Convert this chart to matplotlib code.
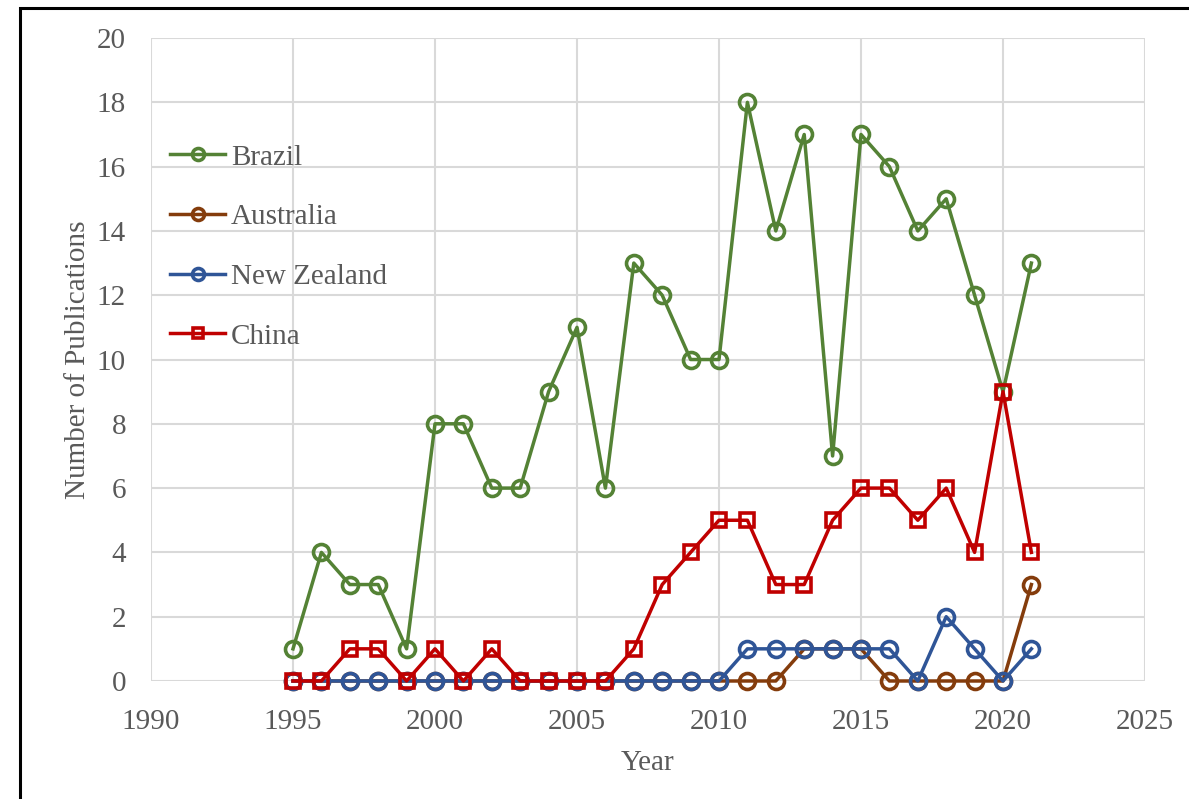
import matplotlib.pyplot as plt
from matplotlib.patches import Rectangle

years = list(range(1995, 2022))
brazil = [1, 4, 3, 3, 1, 8, 8, 6, 6, 9, 11, 6, 13, 12, 10, 10, 18, 14, 17, 7, 17, 16, 14, 15, 12, 9, 13]
australia = [0, 0, 0, 0, 0, 0, 0, 0, 0, 0, 0, 0, 0, 0, 0, 0, 0, 0, 1, 1, 1, 0, 0, 0, 0, 0, 3]
new_zealand = [0, 0, 0, 0, 0, 0, 0, 0, 0, 0, 0, 0, 0, 0, 0, 0, 1, 1, 1, 1, 1, 1, 0, 2, 1, 0, 1]
china = [0, 0, 1, 1, 0, 1, 0, 1, 0, 0, 0, 0, 1, 3, 4, 5, 5, 3, 3, 5, 6, 6, 5, 6, 4, 9, 4]

plt.rcParams['font.family'] = ['Liberation Serif', 'DejaVu Serif']

fig = plt.figure(figsize=(11.89, 7.99), dpi=100)
ax = fig.add_axes([0.127, 0.1477, 0.836, 0.8047])

style = dict(lw=2.5, marker='o', ms=11.5, mew=2.6, mfc='none', clip_on=False)
ax.plot(years, brazil, color='#548235', label='Brazil', **style)
ax.plot(years, australia, color='#843C0C', label='Australia', **style)
ax.plot(years, new_zealand, color='#2F5597', label='New Zealand', **style)
sq = dict(style)
sq['marker'] = 's'
sq['ms'] = 10.5
ax.plot(years, china, color='#C00000', label='China', **sq)

ax.set_xlim(1990, 2025)
ax.set_ylim(0, 20)
ax.set_xticks(range(1990, 2026, 5))
ax.set_yticks(range(0, 21, 2))
ax.grid(True, color='#d9d9d9', lw=1.5)
ax.set_axisbelow(True)
for s in ax.spines.values():
    s.set_visible(False)
ax.tick_params(length=0, labelsize=21, labelcolor='#595959')
ax.tick_params(axis='x', pad=20)
ax.tick_params(axis='y', pad=18)
ax.set_xlabel('Year', fontsize=21, color='#595959', labelpad=11)
ax.set_ylabel('Number of Publications', fontsize=21, color='#595959', labelpad=4)

leg = ax.legend(loc='upper left', bbox_to_anchor=(0.019, 0.835), frameon=False,
                fontsize=21, labelcolor='#595959', handlelength=1.9,
                handletextpad=0.2, labelspacing=1.14, borderaxespad=0,
                borderpad=0, markerscale=0.75)

fig.patches.append(Rectangle((20 / 1189, -0.1), 1.2, 1 - 8 / 799 + 0.1,
                             transform=fig.transFigure, fill=False,
                             edgecolor='black', lw=2.2))

fig.savefig('out.png', dpi=100)
